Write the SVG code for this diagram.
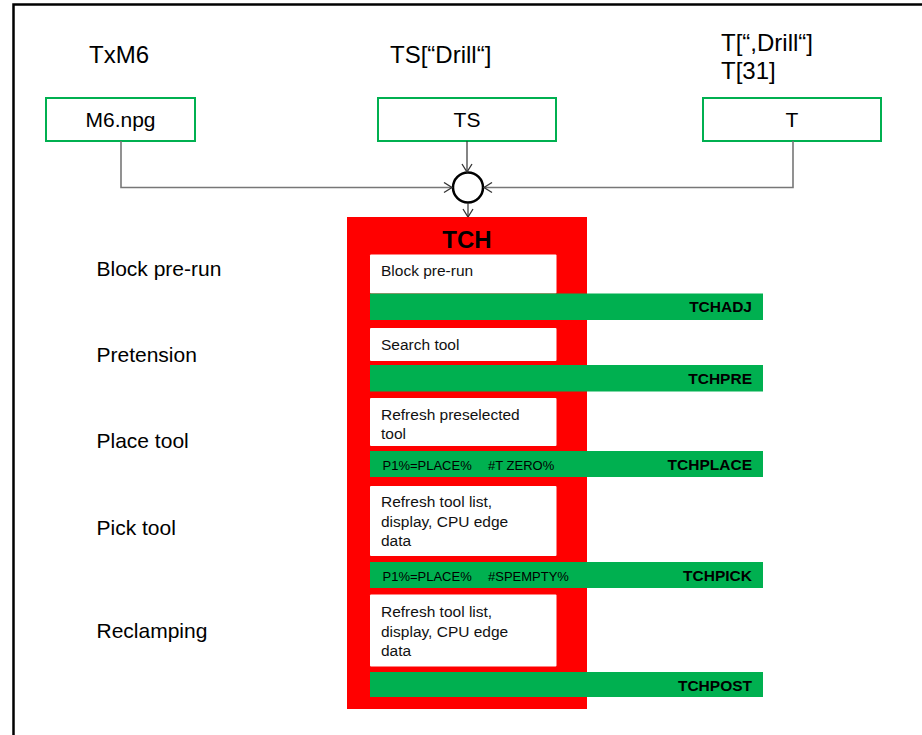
<svg xmlns="http://www.w3.org/2000/svg" width="922" height="735" viewBox="0 0 922 735">
<style>
text{font-family:"Liberation Sans",Arial,sans-serif;fill:#000}
.top{font-size:24px}
.side{font-size:21px}
.src{fill:#fff;stroke:#00b050;stroke-width:2}
.srct{font-size:21px;text-anchor:middle}
.wb{fill:#fff;stroke:none}
.wt{font-size:15.5px;fill:#111}
.gb{fill:#00b050}
.gl{font-size:15.5px;font-weight:bold;text-anchor:end}
.gs{font-size:13px}
.gray{stroke:#777;stroke-width:1.6;fill:none}
.dark{stroke:#333;stroke-width:1.2;fill:none}
</style>
<defs>
<marker id="arr" markerWidth="12" markerHeight="12" refX="9" refY="6" orient="auto" markerUnits="userSpaceOnUse">
<path d="M1,1 L9,6 L1,11" fill="none" stroke="#333" stroke-width="1.3"/>
</marker>
</defs>
<rect x="13.5" y="4.5" width="930" height="750" fill="#fff" stroke="#000" stroke-width="2.5"/>
<text class="top" x="89" y="63">TxM6</text>
<text class="top" x="390" y="63">TS[“Drill“]</text>
<text class="top" x="721" y="51">T[“,Drill“]</text>
<text class="top" x="721" y="79">T[31]</text>
<g id="n-m6">
<rect class="src" x="46" y="98" width="149" height="43"/>
<text class="srct" x="120.5" y="127">M6.npg</text>
</g>
<g id="n-ts">
<rect class="src" x="378" y="98" width="178" height="43"/>
<text class="srct" x="467" y="127">TS</text>
</g>
<g id="n-t">
<rect class="src" x="703" y="98" width="178" height="43"/>
<text class="srct" x="792" y="127">T</text>
</g>
<g id="n-join">
<circle cx="468" cy="187.5" r="15" fill="#fff" stroke="#000" stroke-width="2.5"/>
</g>
<g id="connectors">
<path class="gray" d="M121,141 V187.5 H452" marker-end="url(#arr)"/>
<path class="gray" d="M793,141 V187.5 H484" marker-end="url(#arr)"/>
<path class="dark" d="M467,141 V172" marker-end="url(#arr)"/>
<path class="dark" d="M468,203 V217" marker-end="url(#arr)"/>
</g>
<g id="n-tch">
<rect x="347" y="217" width="240" height="492" fill="#ff0000"/>
<text x="467" y="248" font-size="24" font-weight="bold" text-anchor="middle">TCH</text>
</g>
<g id="n-blockprerun">
<rect class="wb" x="370" y="254.5" width="186.5" height="39" rx="1"/>
<text class="wt" x="381" y="276">Block pre-run</text>
</g>
<g id="n-tchadj">
<rect class="gb" x="370" y="293.5" width="393" height="26.5"/>
<text class="gl" x="752" y="312">TCHADJ</text>
</g>
<g id="n-search">
<rect class="wb" x="370" y="328" width="186.5" height="33" rx="1"/>
<text class="wt" x="381" y="349.5">Search tool</text>
</g>
<g id="n-tchpre">
<rect class="gb" x="370" y="365" width="393" height="26.5"/>
<text class="gl" x="752" y="384">TCHPRE</text>
</g>
<g id="n-refreshpre">
<rect class="wb" x="370" y="398" width="186.5" height="48" rx="1"/>
<text class="wt" x="381" y="419.5">Refresh preselected</text>
<text class="wt" x="381" y="438.5">tool</text>
</g>
<g id="n-tchplace">
<rect class="gb" x="370" y="451" width="393" height="26"/>
<text class="gs" x="382.5" y="469.5">P1%=PLACE%</text>
<text class="gs" x="488" y="469.5">#T ZERO%</text>
<text class="gl" x="752" y="469.5">TCHPLACE</text>
</g>
<g id="n-refreshlist1">
<rect class="wb" x="370" y="486" width="186.5" height="70" rx="1"/>
<text class="wt" x="381" y="507">Refresh tool list,</text>
<text class="wt" x="381" y="526.5">display, CPU edge</text>
<text class="wt" x="381" y="545.5">data</text>
</g>
<g id="n-tchpick">
<rect class="gb" x="370" y="562" width="393" height="26"/>
<text class="gs" x="382.5" y="581">P1%=PLACE%</text>
<text class="gs" x="488" y="581">#SPEMPTY%</text>
<text class="gl" x="752" y="581">TCHPICK</text>
</g>
<g id="n-refreshlist2">
<rect class="wb" x="370" y="594.5" width="186.5" height="72" rx="1"/>
<text class="wt" x="381" y="617">Refresh tool list,</text>
<text class="wt" x="381" y="636.5">display, CPU edge</text>
<text class="wt" x="381" y="656">data</text>
</g>
<g id="n-tchpost">
<rect class="gb" x="370" y="672" width="393" height="25"/>
<text class="gl" x="752" y="691">TCHPOST</text>
</g>
<text class="side" x="96.5" y="276">Block pre-run</text>
<text class="side" x="96.5" y="361.5">Pretension</text>
<text class="side" x="96.5" y="448">Place tool</text>
<text class="side" x="96.5" y="535">Pick tool</text>
<text class="side" x="96.5" y="638">Reclamping</text>
</svg>
